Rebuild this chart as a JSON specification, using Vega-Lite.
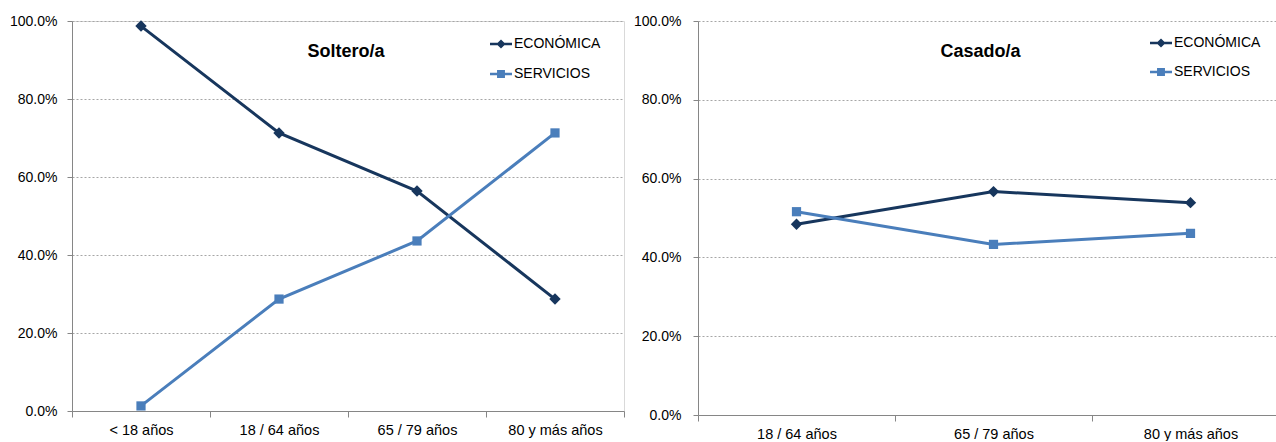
{
  "$schema": "https://vega.github.io/schema/vega-lite/v6.json",
  "background": "white",
  "padding": {"left": 9, "top": 13, "right": 0, "bottom": 0},
  "bounds": "flush",
  "spacing": 74,
  "config": {
    "font": "Liberation Sans, Arial",
    "view": {"stroke": null},
    "axis": {
      "labelFont": "Liberation Sans, Arial",
      "labelFontSize": 14,
      "labelColor": "#000000",
      "domainColor": "#868686",
      "domainWidth": 1,
      "tickColor": "#868686",
      "tickSize": 5,
      "gridColor": "#a6a6a6",
      "gridDash": [2, 2],
      "gridWidth": 1,
      "title": null
    },
    "legend": {
      "labelFont": "Liberation Sans, Arial",
      "labelFontSize": 14,
      "labelColor": "#000000",
      "symbolSize": 484,
      "symbolStrokeWidth": 0,
      "labelOffset": 2,
      "rowPadding": 12,
      "padding": 0,
      "title": null
    },
    "title": {
      "font": "Liberation Sans, Arial",
      "fontSize": 18,
      "fontWeight": "bold",
      "color": "#000000",
      "baseline": "alphabetic"
    }
  },
  "datasets": {
    "soltero": [
      {"edad": "< 18 años", "serie": "ECONÓMICA", "pct": 0.987},
      {"edad": "18 / 64 años", "serie": "ECONÓMICA", "pct": 0.713},
      {"edad": "65 / 79 años", "serie": "ECONÓMICA", "pct": 0.564},
      {"edad": "80 y más años", "serie": "ECONÓMICA", "pct": 0.287},
      {"edad": "< 18 años", "serie": "SERVICIOS", "pct": 0.013},
      {"edad": "18 / 64 años", "serie": "SERVICIOS", "pct": 0.287},
      {"edad": "65 / 79 años", "serie": "SERVICIOS", "pct": 0.436},
      {"edad": "80 y más años", "serie": "SERVICIOS", "pct": 0.713}
    ],
    "casado": [
      {"edad": "18 / 64 años", "serie": "ECONÓMICA", "pct": 0.484},
      {"edad": "65 / 79 años", "serie": "ECONÓMICA", "pct": 0.567},
      {"edad": "80 y más años", "serie": "ECONÓMICA", "pct": 0.539},
      {"edad": "18 / 64 años", "serie": "SERVICIOS", "pct": 0.516},
      {"edad": "65 / 79 años", "serie": "SERVICIOS", "pct": 0.433},
      {"edad": "80 y más años", "serie": "SERVICIOS", "pct": 0.461}
    ]
  },
  "hconcat": [
    {
      "width": 552,
      "height": 390,
      "view": {"stroke": "#d9d9d9", "strokeWidth": 1},
      "title": {"text": "Soltero/a", "offset": -47, "dx": -2},
      "data": {"name": "soltero"},
      "encoding": {
        "x": {
          "field": "edad",
          "type": "nominal",
          "sort": ["< 18 años", "18 / 64 años", "65 / 79 años", "80 y más años"],
          "scale": {"paddingInner": 0, "paddingOuter": 0},
          "axis": {"labelAngle": 0, "labelFontSize": 14.5, "tickBand": "extent", "tickSize": 6, "labelPadding": 6, "grid": false}
        },
        "y": {
          "field": "pct",
          "type": "quantitative",
          "scale": {"domain": [0, 1], "nice": false, "zero": true},
          "axis": {"format": ".1%", "values": [0, 0.2, 0.4, 0.6, 0.8, 1], "labelPadding": 10, "grid": true}
        },
        "color": {
          "field": "serie",
          "type": "nominal",
          "scale": {"domain": ["ECONÓMICA", "SERVICIOS"], "range": ["#17365D", "#4A7EBB"]},
          "legend": {
            "orient": "none",
            "legendX": 418,
            "legendY": 12,
            "encode": {
              "symbols": {
                "update": {
                  "shape": {"signal": "datum.value === 'ECONÓMICA' ? 'M-1,-0.12H1V0.12H-1Z M0,-0.42L0.42,0L0,0.42L-0.42,0Z' : 'M-1,-0.12H1V0.12H-1Z M-0.36,-0.36H0.36V0.36H-0.36Z'"},
                  "fill": {"signal": "datum.value === 'ECONÓMICA' ? '#17365D' : '#4A7EBB'"},
                  "stroke": {"value": "transparent"},
                  "opacity": {"value": 1},
                  "fillOpacity": {"value": 1}
                }
              }
            }
          }
        }
      },
      "layer": [
        {"mark": {"type": "line", "strokeWidth": 3}},
        {
          "transform": [{"filter": "datum.serie === 'ECONÓMICA'"}],
          "mark": {"type": "point", "shape": "diamond", "filled": true, "opacity": 1, "size": 130}
        },
        {
          "transform": [{"filter": "datum.serie === 'SERVICIOS'"}],
          "mark": {"type": "point", "shape": "square", "filled": true, "opacity": 1, "size": 85}
        }
      ]
    },
    {
      "width": 591,
      "height": 394,
      "title": {"text": "Casado/a", "offset": -47, "dx": -13},
      "data": {"name": "casado"},
      "encoding": {
        "x": {
          "field": "edad",
          "type": "nominal",
          "sort": ["18 / 64 años", "65 / 79 años", "80 y más años"],
          "scale": {"paddingInner": 0, "paddingOuter": 0},
          "axis": {"labelAngle": 0, "labelFontSize": 14.5, "tickBand": "extent", "tickSize": 6, "labelPadding": 6, "grid": false}
        },
        "y": {
          "field": "pct",
          "type": "quantitative",
          "scale": {"domain": [0, 1], "nice": false, "zero": true},
          "axis": {"format": ".1%", "values": [0, 0.2, 0.4, 0.6, 0.8, 1], "labelPadding": 12, "grid": true}
        },
        "color": {
          "field": "serie",
          "type": "nominal",
          "scale": {"domain": ["ECONÓMICA", "SERVICIOS"], "range": ["#17365D", "#4A7EBB"]},
          "legend": {
            "orient": "none",
            "legendX": 452,
            "legendY": 11,
            "rowPadding": 11,
            "encode": {
              "symbols": {
                "update": {
                  "shape": {"signal": "datum.value === 'ECONÓMICA' ? 'M-1,-0.12H1V0.12H-1Z M0,-0.42L0.42,0L0,0.42L-0.42,0Z' : 'M-1,-0.12H1V0.12H-1Z M-0.36,-0.36H0.36V0.36H-0.36Z'"},
                  "fill": {"signal": "datum.value === 'ECONÓMICA' ? '#17365D' : '#4A7EBB'"},
                  "stroke": {"value": "transparent"},
                  "opacity": {"value": 1},
                  "fillOpacity": {"value": 1}
                }
              }
            }
          }
        }
      },
      "layer": [
        {"mark": {"type": "line", "strokeWidth": 3}},
        {
          "transform": [{"filter": "datum.serie === 'ECONÓMICA'"}],
          "mark": {"type": "point", "shape": "diamond", "filled": true, "opacity": 1, "size": 130}
        },
        {
          "transform": [{"filter": "datum.serie === 'SERVICIOS'"}],
          "mark": {"type": "point", "shape": "square", "filled": true, "opacity": 1, "size": 85}
        }
      ]
    }
  ],
  "resolve": {"scale": {"color": "independent", "y": "independent", "x": "independent"}, "legend": {"color": "independent"}}
}
